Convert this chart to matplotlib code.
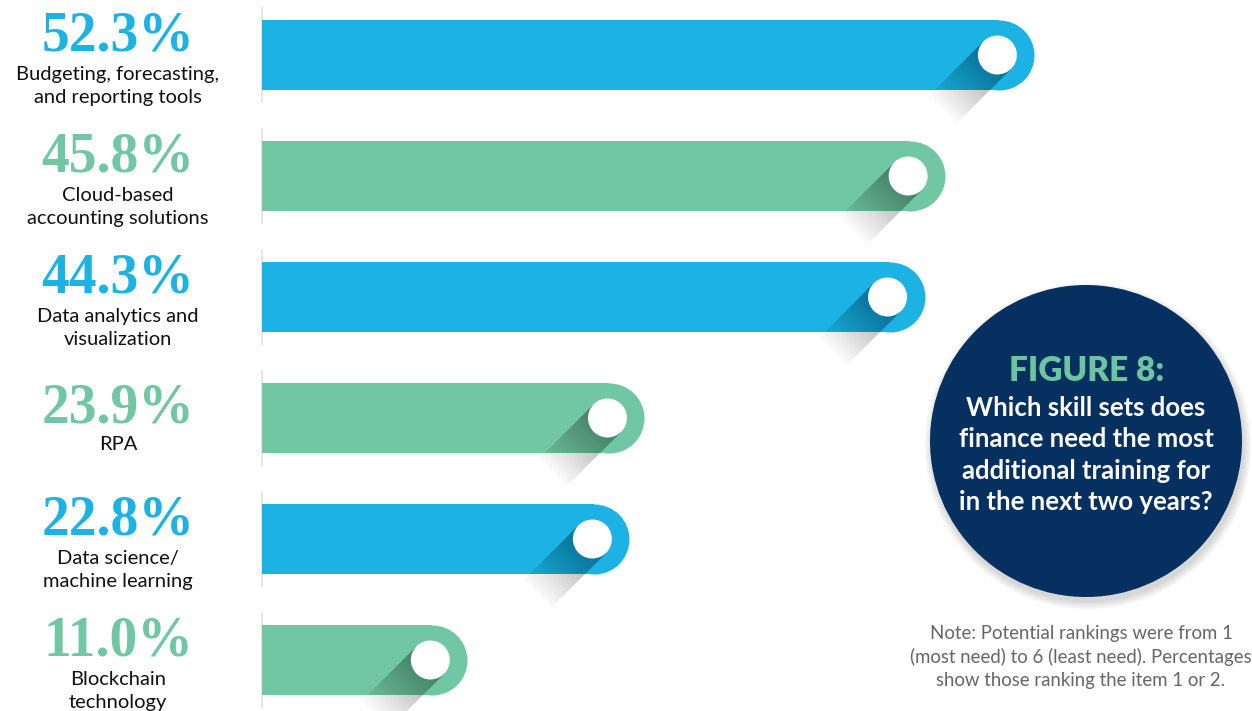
import numpy as np
import matplotlib.pyplot as plt
from matplotlib.patches import Circle, Polygon
from matplotlib.transforms import ScaledTranslation

# --- data ---
values = [52.3, 45.8, 44.3, 23.9, 22.8, 11.0]
labels = ['Budgeting, forecasting,\nand reporting tools',
          'Cloud-based\naccounting solutions',
          'Data analytics and\nvisualization',
          'RPA',
          'Data science/\nmachine learning',
          'Blockchain\ntechnology']
title = 'FIGURE 8:'
question = 'Which skill sets does\nfinance need the most\nadditional training for\nin the next two years?'
note = ('Note: Potential rankings were from 1\n'
        '(most need) to 6 (least need). Percentages\n'
        'show those ranking the item 1 or 2.')

BLUE = '#1DB2E4'
GREEN = '#71C6A3'
NAVY = '#06305F'
colors = [BLUE, GREEN, BLUE, GREEN, BLUE, GREEN]
SANS = ['Lato', 'DejaVu Sans']

fig = plt.figure(figsize=(12.52, 7.11), dpi=100)
ax = fig.add_axes([0, 0, 1, 1])
ax.set_xlim(-23.04, 68.15)
ax.set_ylim(5.4215, -0.4545)
ax.axis('off')

# pixels per data unit (x)
px = ax.transData.transform([[1, 0]])[0, 0] - ax.transData.transform([[0, 0]])[0, 0]
bar_start = -3.93
cap = 35 / px          # radius of the rounded end, in data units
bar_h = 70 / 121

for i, (v, c) in enumerate(zip(values, colors)):
    # faint edge at the left
    ax.plot([bar_start - 0.05, bar_start - 0.05], [i - 0.40, i + 0.40],
            color='#e2e2e2', lw=1.2, zorder=0.5, solid_capstyle='butt')
    # bar with rounded right end
    ax.barh(i, v - bar_start - cap, left=bar_start, height=bar_h,
            color=c, linewidth=0, zorder=1)
    ax.plot(v - cap, i, 'o', ms=70 * 72 / 100, color=c, mew=0, zorder=1)

    # long diagonal shadow + white knob, drawn in pixel offsets from the bar end
    tr = ScaledTranslation(v, i, ax.transData)
    cx, r = -37.0, 19.5
    d = np.array([-1, -1]) / np.sqrt(2)
    p = np.array([-1, 1]) / np.sqrt(2)
    C = np.array([cx, 0.0])
    L, N = 78, 24
    for k in range(1, N + 1):
        t = L * k / N
        pts = [C + r * p, C - r * p, C - r * p + t * d, C + r * p + t * d]
        ax.add_patch(Polygon(pts, closed=True, transform=tr, facecolor='black',
                             alpha=0.017, linewidth=0, zorder=2))
    ax.add_patch(Circle((cx, 0), r, transform=tr, facecolor='white',
                        linewidth=0, zorder=3))

    # percentage and label
    two = '\n' in labels[i]
    ax.annotate(f'{v:.1f}%', xy=(0.0942, i), xycoords=('axes fraction', 'data'),
                xytext=(0, 4 if two else -5), textcoords='offset pixels',
                ha='center', va='baseline', fontsize=40, fontweight='bold',
                family=['Liberation Serif', 'DejaVu Serif'], color=c)
    ax.annotate(labels[i], xy=(0.0942, i), xycoords=('axes fraction', 'data'),
                xytext=(0, -31 if two else -27), textcoords='offset pixels',
                ha='center', va='center', fontsize=14.5, family=SANS,
                color='#111111', linespacing=1.45)

# navy circle with soft shadow
for k in range(8):
    ax.add_patch(Circle((10.88, 2.65), 1.56 + 0.011 * k, transform=fig.dpi_scale_trans,
                        facecolor='black', alpha=0.018, linewidth=0, clip_on=False))
ax.add_patch(Circle((10.86, 2.70), 1.56, transform=fig.dpi_scale_trans,
                    facecolor=NAVY, linewidth=0, clip_on=False, zorder=4))

fig.text(1087 / 1252, 1 - 371 / 711, title, ha='center', va='center',
         fontsize=24, fontweight='heavy', color='#6CC4A0', family=SANS, zorder=5)
fig.text(1086 / 1252, 1 - 455 / 711, question, ha='center', va='center',
         fontsize=18.5, fontweight='bold', color='white', family=SANS,
         linespacing=1.36, zorder=5)
fig.text(1081 / 1252, 1 - 657 / 711, note, ha='center', va='center',
         fontsize=13.4, fontweight='normal', color='#666666', family=SANS,
         linespacing=1.4)

fig.savefig('out.png', dpi=100)
